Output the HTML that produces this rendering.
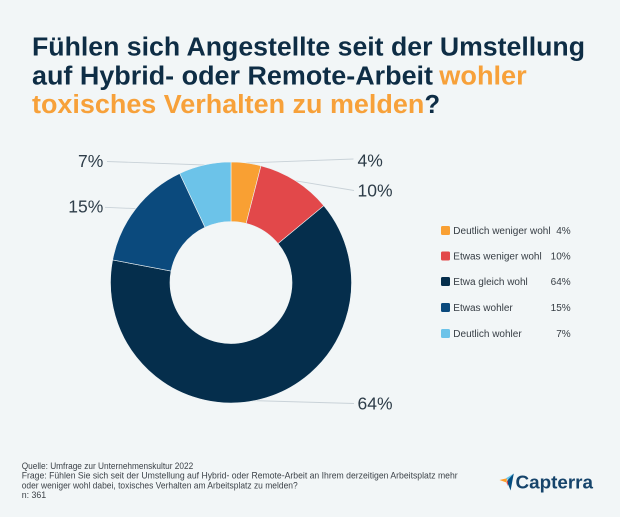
<!DOCTYPE html>
<html>
<head>
<meta charset="utf-8">
<style>
  html, body { margin: 0; padding: 0; }
  body { width: 620px; height: 517px; background: #f2f6f7; overflow: hidden; }
  svg { display: block; }
</style>
</head>
<body>
<svg width="620" height="517" viewBox="0 0 620 517" xmlns="http://www.w3.org/2000/svg">
  <rect x="0" y="0" width="620" height="517" fill="#f2f6f7"/>

  <!-- Title -->
  <g font-family="'Liberation Sans', sans-serif" font-weight="bold" font-size="25.5">
    <text x="32" y="55.5" fill="#0e2d45" textLength="553" lengthAdjust="spacingAndGlyphs">Fühlen sich Angestellte seit der Umstellung</text>
    <text x="32" y="84.5" fill="#0e2d45" textLength="401" lengthAdjust="spacingAndGlyphs">auf Hybrid- oder Remote-Arbeit</text>
    <text x="439.3" y="84.5" fill="#f7a13a" textLength="87.4" lengthAdjust="spacingAndGlyphs">wohler</text>
    <text x="32" y="113" fill="#f7a13a" textLength="392.3" lengthAdjust="spacingAndGlyphs">toxisches Verhalten zu melden</text>
    <text x="424.5" y="113" fill="#0e2d45">?</text>
  </g>

  <!-- Leader lines -->
  <g stroke="#c9d2d8" stroke-width="0.9" fill="none">
    <line x1="107" y1="161.5" x2="204.7" y2="165"/>
    <line x1="246" y1="163" x2="353.5" y2="159"/>
    <line x1="295.6" y1="180.8" x2="354" y2="190.5"/>
    <line x1="105" y1="207.3" x2="135.8" y2="208.6"/>
    <line x1="250" y1="400.5" x2="354" y2="403.5"/>
  </g>

  <!-- Donut -->
  <g stroke="#eef3f5" stroke-width="0.6">
    <path fill="#f9a033" d="M231,162 A120.5,120.5 0 0 1 260.97,165.79 L246.17,223.42 A61,61 0 0 0 231,221.5 Z"/>
    <path fill="#e2484a" d="M260.97,165.79 A120.5,120.5 0 0 1 323.85,205.69 L278.00,243.62 A61,61 0 0 0 246.17,223.42 Z"/>
    <path fill="#052e4c" d="M323.85,205.69 A120.5,120.5 0 1 1 112.63,259.92 L171.08,271.07 A61,61 0 1 0 278.00,243.62 Z"/>
    <path fill="#0b4a7d" d="M112.63,259.92 A120.5,120.5 0 0 1 179.69,173.47 L205.03,227.31 A61,61 0 0 0 171.08,271.07 Z"/>
    <path fill="#6cc3e9" d="M179.69,173.47 A120.5,120.5 0 0 1 231,162 L231,221.5 A61,61 0 0 0 205.03,227.31 Z"/>
  </g>

  <!-- Slice labels -->
  <g font-family="'Liberation Sans', sans-serif" font-size="17.5" fill="#2e3d49">
    <text x="357.5" y="166.5">4%</text>
    <text x="357.5" y="196.5">10%</text>
    <text x="103.3" y="167" text-anchor="end">7%</text>
    <text x="103.3" y="212.5" text-anchor="end">15%</text>
    <text x="357.5" y="409.3">64%</text>
  </g>

  <!-- Legend -->
  <g font-family="'Liberation Sans', sans-serif" font-size="10" fill="#363d44">
    <rect x="441" y="226" width="9" height="9" rx="1.5" fill="#f9a033"/>
    <text x="453.3" y="234">Deutlich weniger wohl</text>
    <text x="570.7" y="234" text-anchor="end">4%</text>

    <rect x="441" y="251.5" width="9" height="9" rx="1.5" fill="#e2484a"/>
    <text x="453.3" y="259.5">Etwas weniger wohl</text>
    <text x="570.7" y="259.5" text-anchor="end">10%</text>

    <rect x="441" y="277" width="9" height="9" rx="1.5" fill="#052e4c"/>
    <text x="453.3" y="285">Etwa gleich wohl</text>
    <text x="570.7" y="285" text-anchor="end">64%</text>

    <rect x="441" y="303" width="9" height="9" rx="1.5" fill="#0b4a7d"/>
    <text x="453.3" y="311">Etwas wohler</text>
    <text x="570.7" y="311" text-anchor="end">15%</text>

    <rect x="441" y="329" width="9" height="9" rx="1.5" fill="#6cc3e9"/>
    <text x="453.3" y="337">Deutlich wohler</text>
    <text x="570.7" y="337" text-anchor="end">7%</text>
  </g>

  <!-- Footer -->
  <g font-family="'Liberation Sans', sans-serif" font-size="8.8" fill="#3c4248">
    <text x="21.7" y="469" textLength="171.5" lengthAdjust="spacingAndGlyphs">Quelle: Umfrage zur Unternehmenskultur 2022</text>
    <text x="21.7" y="478.7" textLength="436" lengthAdjust="spacingAndGlyphs">Frage: Fühlen Sie sich seit der Umstellung auf Hybrid- oder Remote-Arbeit an Ihrem derzeitigen Arbeitsplatz mehr</text>
    <text x="21.7" y="488.4" textLength="276" lengthAdjust="spacingAndGlyphs">oder weniger wohl dabei, toxisches Verhalten am Arbeitsplatz zu melden?</text>
    <text x="21.7" y="498">n: 361</text>
  </g>

  <!-- Capterra logo -->
  <g>
    <polygon points="499.5,480 507,478.3 506.5,482.5" fill="#ff9d28"/>
    <polygon points="506,478.3 513.8,473.5 508.2,480.2" fill="#68c5ed"/>
    <polygon points="506.8,481.2 513.8,473.5 510.6,490.5" fill="#044d80"/>
    <polygon points="506.5,482.5 508.2,480.2 507.6,486" fill="#e54747"/>
    <text x="515.5" y="488.5" font-family="'Liberation Sans', sans-serif" font-weight="bold" font-size="18.5" fill="#16446b" textLength="77.5" lengthAdjust="spacingAndGlyphs">Capterra</text>
  </g>
</svg>
</body>
</html>
